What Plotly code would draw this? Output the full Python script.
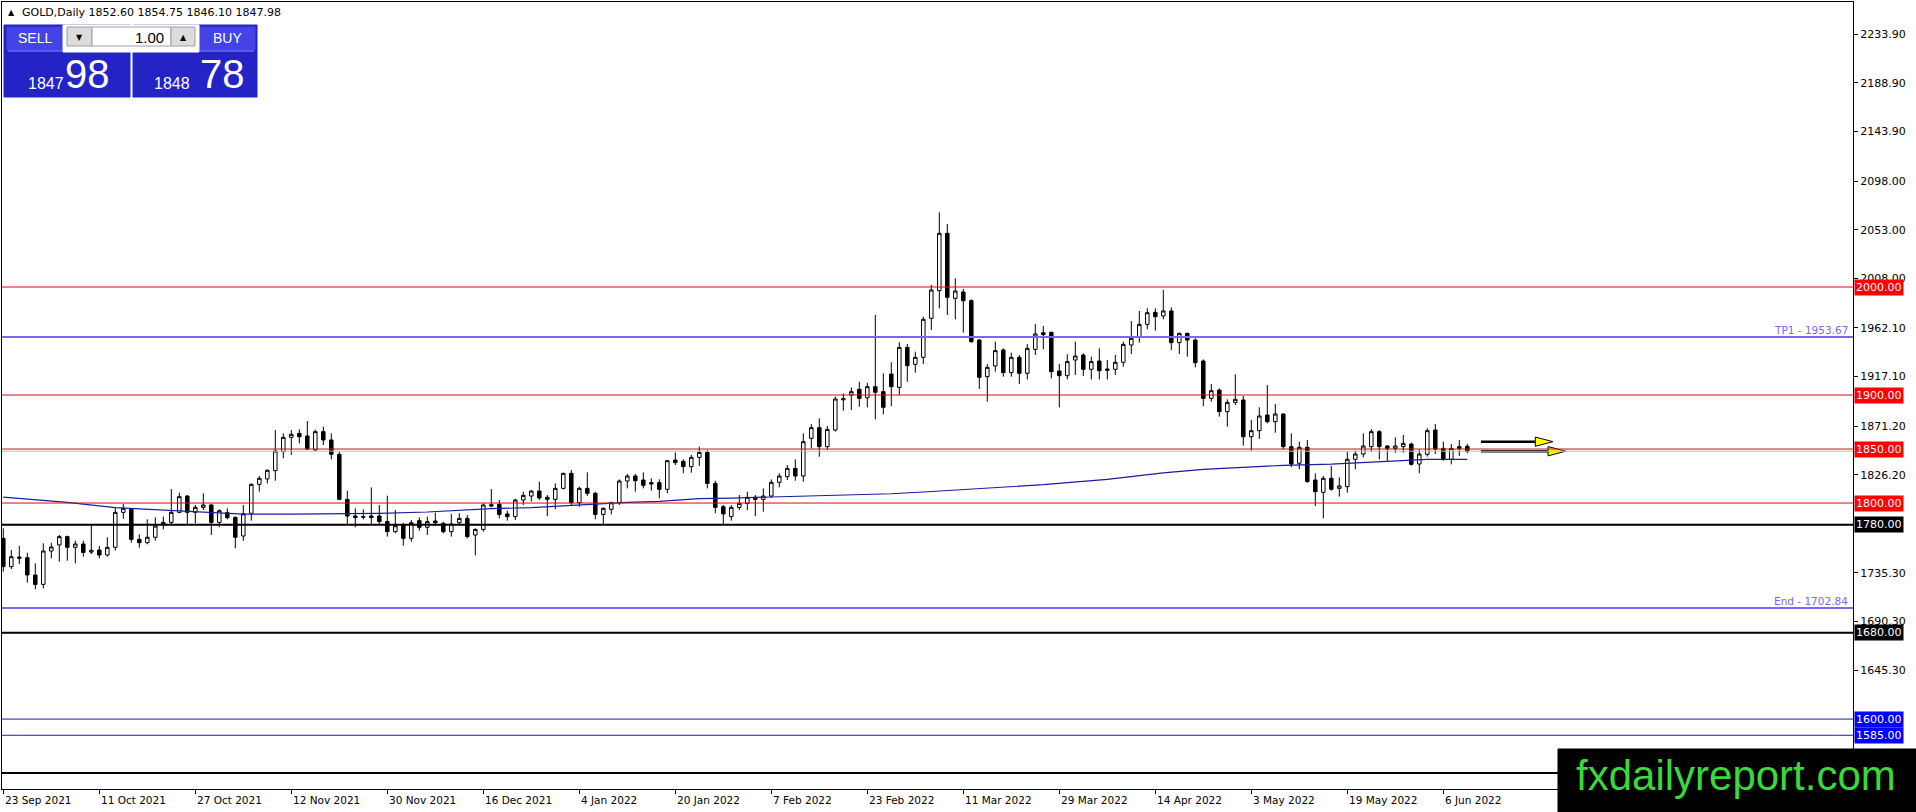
import plotly.graph_objects as go

# ---------------------------------------------------------------------------
# GOLD daily candles, 23 Sep 2021 .. 9 Jun 2022
# ---------------------------------------------------------------------------
opens = [
    1767.3, 1741.1, 1750.0, 1749.4, 1733.4, 1724.7, 1755.6, 1761.2, 1768.9, 1759.0,
    1762.1, 1754.6, 1756.5, 1751.9, 1759.0, 1791.4, 1794.2, 1766.4, 1763.3, 1768.3,
    1780.3, 1782.1, 1791.4, 1806.5, 1791.4, 1796.0, 1798.2, 1782.1, 1791.1, 1786.8,
    1769.5, 1790.5, 1817.3, 1822.3, 1830.0, 1847.6, 1860.8, 1864.5, 1862.1, 1849.1,
    1866.1, 1858.4, 1845.1, 1803.4, 1788.0, 1787.5, 1788.0, 1788.0, 1782.8, 1773.5,
    1779.7, 1767.3, 1783.7, 1777.5, 1783.4, 1781.2, 1773.5, 1781.8, 1785.8, 1770.4,
    1775.6, 1798.5, 1798.8, 1789.9, 1787.4, 1802.8, 1806.5, 1811.1, 1805.3, 1803.4,
    1813.6, 1827.5, 1800.3, 1813.6, 1809.0, 1789.5, 1794.2, 1800.3, 1820.4, 1825.0,
    1821.3, 1818.9, 1818.9, 1812.7, 1839.8, 1838.6, 1833.7, 1842.3, 1846.9, 1818.2,
    1796.6, 1787.4, 1796.0, 1799.7, 1805.3, 1803.4, 1806.5, 1819.2, 1824.4, 1832.1,
    1825.0, 1859.9, 1869.8, 1852.2, 1867.6, 1895.6, 1900.0, 1905.3, 1897.5, 1907.7,
    1903.1, 1919.4, 1907.1, 1944.1, 1928.4, 1934.9, 1971.0, 1996.6, 2049.7, 1989.5,
    1995.4, 1987.4, 1950.9, 1917.0, 1926.9, 1941.7, 1920.7, 1934.9, 1920.1, 1942.3,
    1957.7, 1958.0, 1922.2, 1917.9, 1932.4, 1937.0, 1923.8, 1931.5, 1924.1, 1923.8,
    1930.3, 1946.3, 1953.4, 1965.4, 1976.6, 1973.2, 1977.8, 1948.5, 1957.1, 1950.9,
    1931.5, 1896.9, 1904.6, 1884.6, 1893.2, 1895.4, 1861.4, 1867.0, 1881.5, 1875.3,
    1882.4, 1852.2, 1836.8, 1851.6, 1821.3, 1809.9, 1822.9, 1813.6, 1815.2, 1840.5,
    1845.4, 1852.2, 1866.1, 1852.8, 1850.6, 1852.2, 1854.6, 1836.1, 1845.1, 1867.6,
    1850.6, 1840.5, 1852.2, 1852.60,
]
highs = [
    1776.6, 1756.5, 1760.2, 1754.0, 1744.2, 1762.7, 1763.3, 1770.4, 1769.8, 1765.2,
    1765.2, 1779.4, 1760.2, 1768.3, 1796.0, 1799.1, 1795.1, 1771.0, 1784.9, 1786.8,
    1787.4, 1813.0, 1809.6, 1807.4, 1798.2, 1809.0, 1799.1, 1794.2, 1795.1, 1787.5,
    1798.2, 1818.2, 1825.0, 1831.2, 1867.6, 1864.5, 1867.6, 1868.2, 1875.9, 1868.0,
    1870.7, 1864.5, 1847.6, 1811.4, 1795.1, 1794.2, 1814.5, 1798.2, 1806.8, 1793.5,
    1781.8, 1784.3, 1786.8, 1787.4, 1791.1, 1782.8, 1789.8, 1790.5, 1788.9, 1776.6,
    1799.7, 1813.0, 1802.8, 1793.0, 1804.0, 1810.5, 1812.1, 1819.8, 1807.4, 1818.2,
    1828.0, 1830.6, 1815.2, 1828.4, 1810.5, 1796.0, 1801.3, 1821.9, 1826.9, 1826.9,
    1828.4, 1822.9, 1822.0, 1839.8, 1846.9, 1840.5, 1844.5, 1852.2, 1849.1, 1820.7,
    1798.2, 1798.2, 1807.4, 1810.5, 1807.4, 1813.6, 1821.9, 1827.5, 1835.2, 1840.5,
    1864.5, 1873.2, 1878.4, 1871.3, 1898.5, 1901.5, 1907.1, 1912.3, 1911.4, 1974.1,
    1920.1, 1930.3, 1948.8, 1947.2, 1940.1, 1972.5, 2001.9, 2069.1, 2058.3, 2008.0,
    1998.3, 1988.6, 1951.9, 1928.7, 1949.4, 1943.2, 1939.2, 1937.1, 1947.2, 1965.7,
    1963.9, 1958.7, 1928.7, 1937.7, 1949.4, 1938.6, 1935.5, 1943.2, 1932.4, 1937.1,
    1949.4, 1968.5, 1977.8, 1980.3, 1980.3, 1997.2, 1981.2, 1957.7, 1957.7, 1952.5,
    1933.0, 1910.2, 1906.2, 1896.0, 1919.2, 1899.1, 1876.9, 1888.6, 1909.3, 1891.7,
    1883.0, 1864.5, 1856.8, 1858.4, 1827.5, 1825.0, 1834.3, 1823.8, 1847.6, 1848.5,
    1864.5, 1868.5, 1867.6, 1853.7, 1860.8, 1863.0, 1855.9, 1849.7, 1869.2, 1873.2,
    1856.8, 1854.6, 1858.4, 1854.75,
]
lows = [
    1736.5, 1738.9, 1743.5, 1726.3, 1720.1, 1721.0, 1748.8, 1745.7, 1746.6, 1744.2,
    1750.3, 1752.8, 1748.8, 1750.3, 1755.9, 1785.5, 1763.3, 1758.7, 1761.8, 1765.2,
    1775.6, 1780.6, 1790.5, 1780.6, 1781.2, 1793.5, 1770.4, 1777.5, 1784.9, 1758.1,
    1765.0, 1783.7, 1810.5, 1818.2, 1820.7, 1841.4, 1844.5, 1855.3, 1849.1, 1848.2,
    1853.7, 1840.5, 1802.8, 1780.6, 1777.5, 1784.9, 1780.6, 1780.6, 1768.9, 1772.0,
    1760.5, 1764.2, 1774.4, 1770.4, 1778.7, 1772.0, 1768.9, 1780.6, 1767.3, 1751.6,
    1773.5, 1796.0, 1785.8, 1783.7, 1784.3, 1798.2, 1801.3, 1802.8, 1788.0, 1794.2,
    1812.5, 1797.3, 1796.6, 1806.5, 1784.9, 1779.7, 1789.5, 1798.2, 1813.6, 1810.5,
    1813.6, 1811.5, 1804.4, 1809.0, 1835.2, 1827.5, 1828.1, 1834.3, 1813.6, 1790.5,
    1780.6, 1783.7, 1793.5, 1793.5, 1788.0, 1792.0, 1804.9, 1814.5, 1821.3, 1820.7,
    1819.8, 1850.6, 1842.9, 1849.1, 1866.1, 1885.5, 1886.1, 1889.2, 1888.6, 1877.5,
    1882.1, 1889.8, 1900.0, 1912.3, 1920.7, 1928.7, 1960.2, 1980.2, 1974.1, 1970.1,
    1957.8, 1948.5, 1905.6, 1893.8, 1921.6, 1917.0, 1917.0, 1910.2, 1914.5, 1937.1,
    1942.3, 1915.4, 1888.6, 1914.5, 1918.5, 1917.6, 1914.5, 1914.5, 1914.5, 1918.5,
    1926.2, 1938.0, 1948.5, 1960.8, 1959.6, 1970.1, 1941.7, 1938.0, 1935.5, 1925.6,
    1889.8, 1893.8, 1880.0, 1870.7, 1890.8, 1853.1, 1848.5, 1859.3, 1873.8, 1865.1,
    1849.7, 1833.1, 1831.2, 1818.8, 1797.3, 1785.8, 1811.5, 1805.9, 1809.6, 1831.2,
    1842.3, 1847.6, 1840.5, 1838.9, 1846.6, 1846.6, 1834.6, 1827.5, 1843.0, 1845.4,
    1839.2, 1835.8, 1843.6, 1846.10,
]
closes = [
    1741.1, 1750.3, 1749.0, 1733.4, 1724.7, 1755.6, 1759.3, 1768.9, 1759.0, 1762.1,
    1754.3, 1756.2, 1751.9, 1759.0, 1791.4, 1795.1, 1766.4, 1763.3, 1768.3, 1778.7,
    1782.1, 1791.4, 1805.9, 1791.4, 1796.0, 1798.2, 1782.1, 1792.9, 1786.5, 1768.3,
    1790.0, 1817.3, 1822.9, 1830.3, 1848.2, 1860.8, 1863.6, 1861.4, 1850.0, 1866.1,
    1858.4, 1845.1, 1803.4, 1788.0, 1786.5, 1787.0, 1786.5, 1782.8, 1773.5, 1779.0,
    1767.3, 1781.8, 1777.5, 1782.8, 1781.8, 1773.5, 1780.6, 1785.8, 1768.9, 1775.6,
    1798.2, 1797.3, 1789.5, 1787.4, 1802.8, 1807.1, 1811.1, 1804.7, 1803.4, 1813.6,
    1827.5, 1800.3, 1813.6, 1809.0, 1789.5, 1795.1, 1800.3, 1820.4, 1825.0, 1820.7,
    1816.4, 1817.6, 1812.7, 1839.2, 1837.4, 1833.7, 1842.3, 1846.9, 1818.2, 1796.0,
    1789.9, 1796.0, 1799.7, 1805.3, 1803.4, 1806.5, 1819.2, 1825.0, 1832.1, 1825.0,
    1856.8, 1869.8, 1852.2, 1868.2, 1896.3, 1896.6, 1903.1, 1896.9, 1907.7, 1902.5,
    1888.6, 1907.7, 1944.1, 1927.2, 1934.9, 1970.1, 1997.2, 2049.7, 1990.4, 1996.3,
    1987.3, 1949.4, 1916.4, 1925.6, 1941.1, 1920.7, 1934.9, 1920.1, 1943.2, 1956.5,
    1955.9, 1921.6, 1917.9, 1930.9, 1936.1, 1923.8, 1930.9, 1922.5, 1922.9, 1930.3,
    1946.9, 1952.5, 1965.4, 1976.2, 1972.5, 1977.8, 1948.5, 1957.1, 1950.9, 1929.9,
    1896.9, 1904.0, 1884.6, 1893.2, 1896.0, 1861.4, 1867.0, 1880.6, 1875.3, 1882.4,
    1852.2, 1836.1, 1851.6, 1819.8, 1810.5, 1822.9, 1812.7, 1815.8, 1840.5, 1845.4,
    1852.8, 1866.1, 1852.2, 1850.6, 1852.8, 1855.3, 1835.8, 1845.4, 1867.0, 1850.0,
    1840.5, 1850.6, 1850.6, 1847.98,
]

# moving average, read at a few bars
ma_bars = [0, 8, 14, 20, 30, 36, 47, 53, 57, 61, 66, 73, 78, 82, 87, 91, 98, 106,
           111, 115, 121, 130, 138, 145, 150, 155, 160, 166, 173, 178, 183]
ma_vals = [1805.5, 1800.6, 1795.7, 1793.5, 1789.8, 1789.8, 1790.4, 1791.7, 1793.3,
           1794.8, 1795.7, 1798.8, 1800.6, 1801.6, 1804.0, 1804.6, 1805.9, 1807.7,
           1808.6, 1810.2, 1812.7, 1817.0, 1822.0, 1828.0, 1831.2, 1833.0, 1834.9,
           1836.0, 1838.6, 1840.4, 1840.4]

date_labels = ['23 Sep 2021', '11 Oct 2021', '27 Oct 2021', '12 Nov 2021', '30 Nov 2021',
               '16 Dec 2021', '4 Jan 2022', '20 Jan 2022', '7 Feb 2022', '23 Feb 2022',
               '11 Mar 2022', '29 Mar 2022', '14 Apr 2022', '3 May 2022', '19 May 2022',
               '6 Jun 2022']
date_bars = [0, 12, 24, 36, 48, 60, 72, 84, 96, 108, 120, 132, 144, 156, 168, 180]

price_ticks = [2233.90, 2188.90, 2143.90, 2098.00, 2053.00, 2008.00, 1962.10,
               1917.10, 1871.20, 1826.20, 1735.30, 1690.30, 1645.30]

red_levels = [2000.00, 1900.00, 1850.00, 1800.00]
black_levels = [1780.00, 1680.00]
blue_levels = [1600.00, 1585.00]
fibo_levels = [1953.67, 1702.84]
fibo_names = ['TP1', 'End']
bottom_level = 1550.0
bid = 1847.98
arrow_prices = [1856.8, bid]
arrow_tips = [193.7, 195.3]

# ---------------------------------------------------------------------------
W, H = 1916, 812
ML, MR, MT, MB = 2, 63, 2, 23
PW, PH = W - ML - MR, H - MT - MB
BAR0, BAR_W = 3.3, 8.0          # pixel of first bar, pixels per bar
Y2000, PX_PER_USD = 287.0, 1.0802


def px(x):
    return (x - ML) / PW


def py(y):
    return 1 - (y - MT) / PH


FONT = 'DejaVu Sans'

fig = go.Figure()

fig.add_trace(go.Candlestick(
    x=list(range(len(opens))), open=opens, high=highs, low=lows, close=closes,
    increasing=dict(line=dict(color='black', width=1), fillcolor='white'),
    decreasing=dict(line=dict(color='black', width=1), fillcolor='black'),
    whiskerwidth=0, showlegend=False, hoverinfo='skip'
))

fig.add_trace(go.Scatter(
    x=ma_bars, y=ma_vals, mode='lines',
    line=dict(color='#1c1ca0', width=1.2), showlegend=False, hoverinfo='skip'
))

shapes = []
annotations = []


def hline(level, color, width):
    shapes.append(dict(type='line', xref='paper', x0=0, x1=1, yref='y', y0=level, y1=level,
                       line=dict(color=color, width=width)))


def price_box(level, bg):
    annotations.append(dict(xref='paper', x=1, xanchor='left', xshift=1, yref='y', y=level,
                            text=f'{level:.2f}', showarrow=False, bgcolor=bg, borderpad=1,
                            font=dict(family=FONT, size=11, color='white')))


hline(bid, '#c0c0c0', 1)
for lv in red_levels:
    hline(lv, '#cc1111', 1)
    price_box(lv, '#ff0000')
for lv in black_levels:
    hline(lv, 'black', 2)
    price_box(lv, 'black')
hline(bottom_level, 'black', 2)
for lv in blue_levels:
    hline(lv, '#1a1ab4', 1)
    price_box(lv, '#0000ff')
for lv, nm in zip(fibo_levels, fibo_names):
    hline(lv, '#7b68ee', 2)
    annotations.append(dict(xref='paper', x=1, xanchor='right', xshift=-3, yref='y', y=lv,
                            yanchor='bottom', yshift=-1, text=f'{nm} - {lv:.2f}', showarrow=False,
                            font=dict(family=FONT, size=10.5, color='#7b68ee')))

# arrows pointing to the right of the last bar
head_len, head_half = 2.2, 4.3
for p, tip in zip(arrow_prices, arrow_tips):
    fig.add_trace(go.Scatter(x=[184.7, tip - head_len], y=[p, p], mode='lines',
                             line=dict(color='black', width=2.5), showlegend=False, hoverinfo='skip'))
    fig.add_trace(go.Scatter(x=[tip - head_len, tip, tip - head_len, tip - head_len],
                             y=[p + head_half, p, p - head_half, p + head_half],
                             mode='lines', fill='toself', fillcolor='#ffff00',
                             line=dict(color='black', width=1), showlegend=False, hoverinfo='skip'))

# date labels, left aligned at their tick
for b, lab in zip(date_bars, date_labels):
    annotations.append(dict(xref='x', x=b, xanchor='left', xshift=0, yref='paper', y=0,
                            yanchor='top', yshift=-3, text=lab, showarrow=False,
                            font=dict(family=FONT, size=10.5, color='black')))

# header line
annotations.append(dict(xref='paper', x=px(6), xanchor='left', yref='paper', y=py(13),
                        yanchor='middle', text='▲', showarrow=False,
                        font=dict(family=FONT, size=8, color='black')))
annotations.append(dict(xref='paper', x=px(20), xanchor='left', yref='paper', y=py(13),
                        yanchor='middle', text='GOLD,Daily 1852.60 1854.75 1846.10 1847.98',
                        showarrow=False, font=dict(family=FONT, size=11, color='black')))


# one-click trading panel
def rect(x0, y0, x1, y1, fill, border=None):
    shapes.append(dict(type='rect', xref='paper', yref='paper', x0=px(x0), x1=px(x1),
                       y0=py(y1), y1=py(y0), fillcolor=fill,
                       line=dict(color=border or fill, width=1)))


def label(x, y, txt, size, color='white', anchor='center', fam='Liberation Sans'):
    annotations.append(dict(xref='paper', yref='paper', x=px(x), y=py(y), xanchor=anchor,
                            yanchor='middle', text=txt, showarrow=False,
                            font=dict(family=fam, size=size, color=color)))


rect(4, 25, 130, 97, '#2323c6')
rect(133, 25, 257, 97, '#2323c6')
rect(7, 27, 63, 50, '#4343e6')
rect(199, 27, 255, 50, '#4343e6')
shapes.append(dict(type='line', xref='paper', yref='paper', x0=px(8), x1=px(62), y0=py(51), y1=py(51),
                   line=dict(color='#8a8aff', width=1)))
shapes.append(dict(type='line', xref='paper', yref='paper', x0=px(200), x1=px(254), y0=py(51), y1=py(51),
                   line=dict(color='#8a8aff', width=1)))
rect(63, 25, 199, 52, 'white')
rect(67, 27, 92, 46, '#dcdcdc', '#a0a0a0')
rect(92, 27, 171, 46, 'white', '#a0a0a0')
rect(171, 27, 195, 46, '#dcdcdc', '#a0a0a0')
label(79.5, 37, '▼', 8, 'black', fam=FONT)
label(183, 37, '▲', 8, 'black', fam=FONT)
label(166, 37, '1.00', 15, 'black', anchor='right')
label(35, 38, 'SELL', 14)
label(227, 38, 'BUY', 14)
label(46, 83, '1847', 16)
label(87, 74, '98', 40)
label(172, 83, '1848', 16)
label(222, 74, '78', 40)

# watermark
rect(1558, 749, 1916, 812, 'black')
label(1736, 775, 'fxdailyreport.com', 42, '#3ad83a')

fig.update_layout(
    width=W, height=H,
    margin=dict(l=ML, r=MR, t=MT, b=MB, autoexpand=False),
    paper_bgcolor='white', plot_bgcolor='white',
    showlegend=False, boxgap=0.375, hovermode=False,
    shapes=shapes, annotations=annotations,
    xaxis=dict(range=[(ML - BAR0) / BAR_W, (ML + PW - BAR0) / BAR_W], showgrid=False,
               zeroline=False, rangeslider=dict(visible=False), showline=True, mirror=True,
               linecolor='black', linewidth=1, tickvals=date_bars, ticks='outside',
               ticklen=4, tickcolor='black', showticklabels=False, fixedrange=True,
               automargin=False),
    yaxis=dict(range=[2000 - (MT + PH - Y2000) / PX_PER_USD, 2000 + (Y2000 - MT) / PX_PER_USD],
               side='right', showgrid=False, zeroline=False, showline=True, mirror=True,
               linecolor='black', linewidth=1, tickvals=price_ticks,
               ticktext=[f'{v:.2f}' for v in price_ticks], ticks='outside', ticklen=4,
               tickcolor='black', tickfont=dict(family=FONT, size=11, color='black'),
               fixedrange=True, automargin=False),
)

# the page body has a default 8px margin; drop it so the chart sits at the window corner
fig.write_html('out.html', config={'displayModeBar': False},
               post_script="document.body.style.margin='0';")
